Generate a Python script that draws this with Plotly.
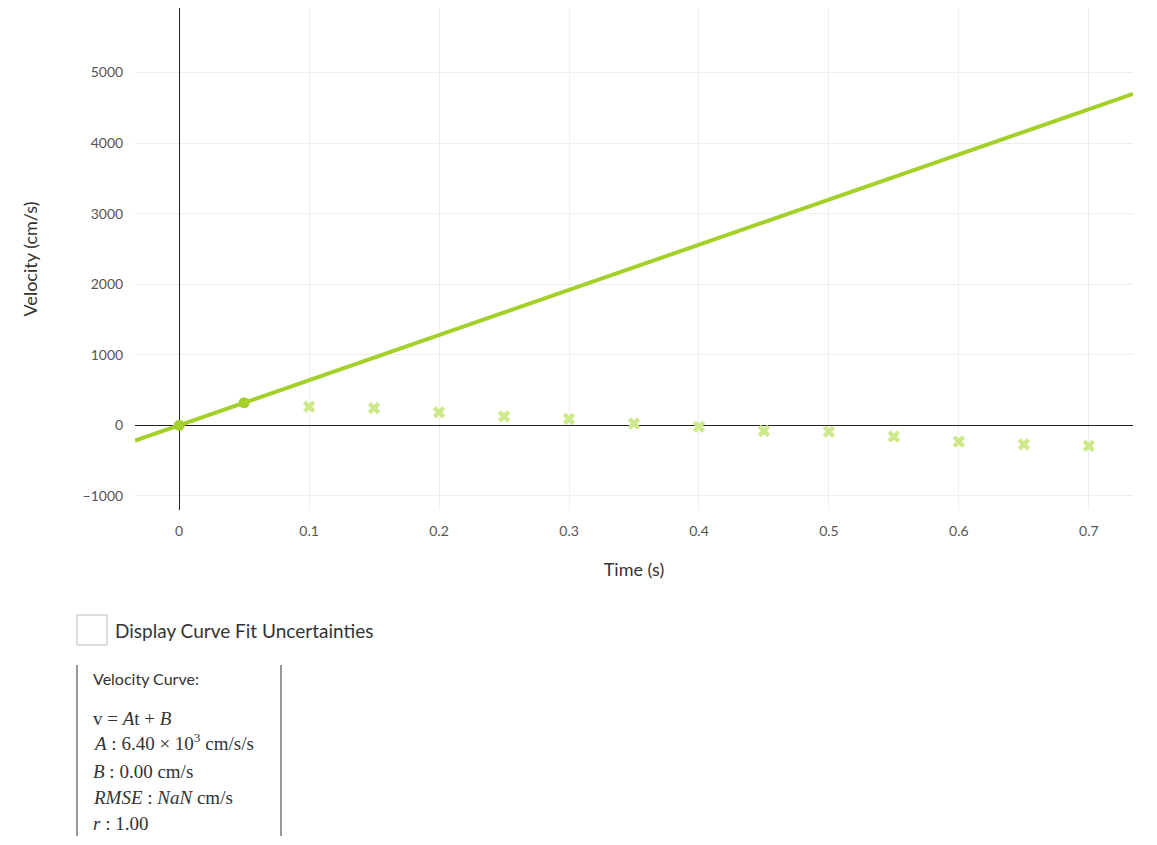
import plotly.graph_objects as go

t_fit = [-0.034, 0.734]
slope = 6400.0
t_solid = [0.0, 0.05]
v_solid = [0, 320]
t_x = [0.1, 0.15, 0.2, 0.25, 0.3, 0.35, 0.4, 0.45, 0.5, 0.55, 0.6, 0.65, 0.7]
v_x = [265, 245, 185, 125, 90, 25, -20, -80, -90, -160, -230, -270, -290]
x_ticks = [0, 0.1, 0.2, 0.3, 0.4, 0.5, 0.6, 0.7]
y_ticks = [-1000, 0, 1000, 2000, 3000, 4000, 5000, 6000]

OFF = 8  # page body margin
W, H = 1149, 837
L, T = 135 - OFF, 0
pw = 998
R = W - L - pw
ph = 510 - OFF
B = H - T - ph
def px(x): return (x - OFF - L) / pw
def py(y): return (510 - y) / ph

green = "#a3d12a"
fig = go.Figure()
fig.add_trace(go.Scatter(x=t_fit, y=[slope * t for t in t_fit], mode="lines",
                         line=dict(color=green, width=4), showlegend=False))
fig.add_trace(go.Scatter(x=t_x, y=v_x, mode="markers",
                         marker=dict(symbol="x", size=11, color="#cde98c"), showlegend=False))
fig.add_trace(go.Scatter(x=t_solid, y=v_solid, mode="markers",
                         marker=dict(size=11, color=green), showlegend=False))

fig.update_layout(
    width=W, height=H, margin=dict(l=L, r=R, t=T, b=B),
    plot_bgcolor="white", paper_bgcolor="white",
    font=dict(family="Lato", color="#333"),
    xaxis=dict(range=t_fit, tickvals=x_ticks, ticktext=[str(v) for v in x_ticks],
               gridcolor="#eeeeee", zeroline=True, zerolinecolor="#222", zerolinewidth=1,
               tickfont=dict(size=14, color="#555"), ticks="outside", ticklen=8, tickcolor="white",
               title=dict(text="Time (s)", font=dict(size=18), standoff=25)),
    yaxis=dict(range=[-1200, 5915], tickvals=y_ticks,
               gridcolor="#eeeeee", zeroline=True, zerolinecolor="#222", zerolinewidth=1,
               tickfont=dict(size=14, color="#555"), ticks="outside", ticklen=8, tickcolor="white",
               title=dict(text="Velocity (cm/s)", font=dict(size=18), standoff=40)),
)

shapes = [
    dict(type="rect", xref="paper", yref="paper", x0=px(77), x1=px(107), y0=py(645), y1=py(615),
         line=dict(color="#bbb", width=1), fillcolor="white"),
    dict(type="line", xref="paper", yref="paper", x0=px(77), x1=px(77), y0=py(665), y1=py(836),
         line=dict(color="#333", width=1)),
    dict(type="line", xref="paper", yref="paper", x0=px(281), x1=px(281), y0=py(665), y1=py(836),
         line=dict(color="#333", width=1)),
]
fig.update_layout(shapes=shapes)

def ann(x, y, text, size=17, family="Lato"):
    fig.add_annotation(xref="paper", yref="paper", x=px(x), y=py(y), text=text, showarrow=False,
                       xanchor="left", yanchor="middle", font=dict(size=size, family=family, color="#333"))

ann(113, 630, "Display Curve Fit Uncertainties", 19)
ann(91, 678, "Velocity Curve:", 16)
serif = "Liberation Serif"
ann(91, 718, "v = <i>A</i>t + <i>B</i>", 19, serif)
ann(91, 742, "<i>A</i> : 6.40 × 10<sup>3</sup> cm/s/s", 19, serif)
ann(91, 771, "<i>B</i> : 0.00 cm/s", 19, serif)
ann(91, 797, "<i>RMSE</i> : <i>NaN</i> cm/s", 19, serif)
ann(91, 823, "<i>r</i> : 1.00", 19, serif)

fig.write_html("out.html")
